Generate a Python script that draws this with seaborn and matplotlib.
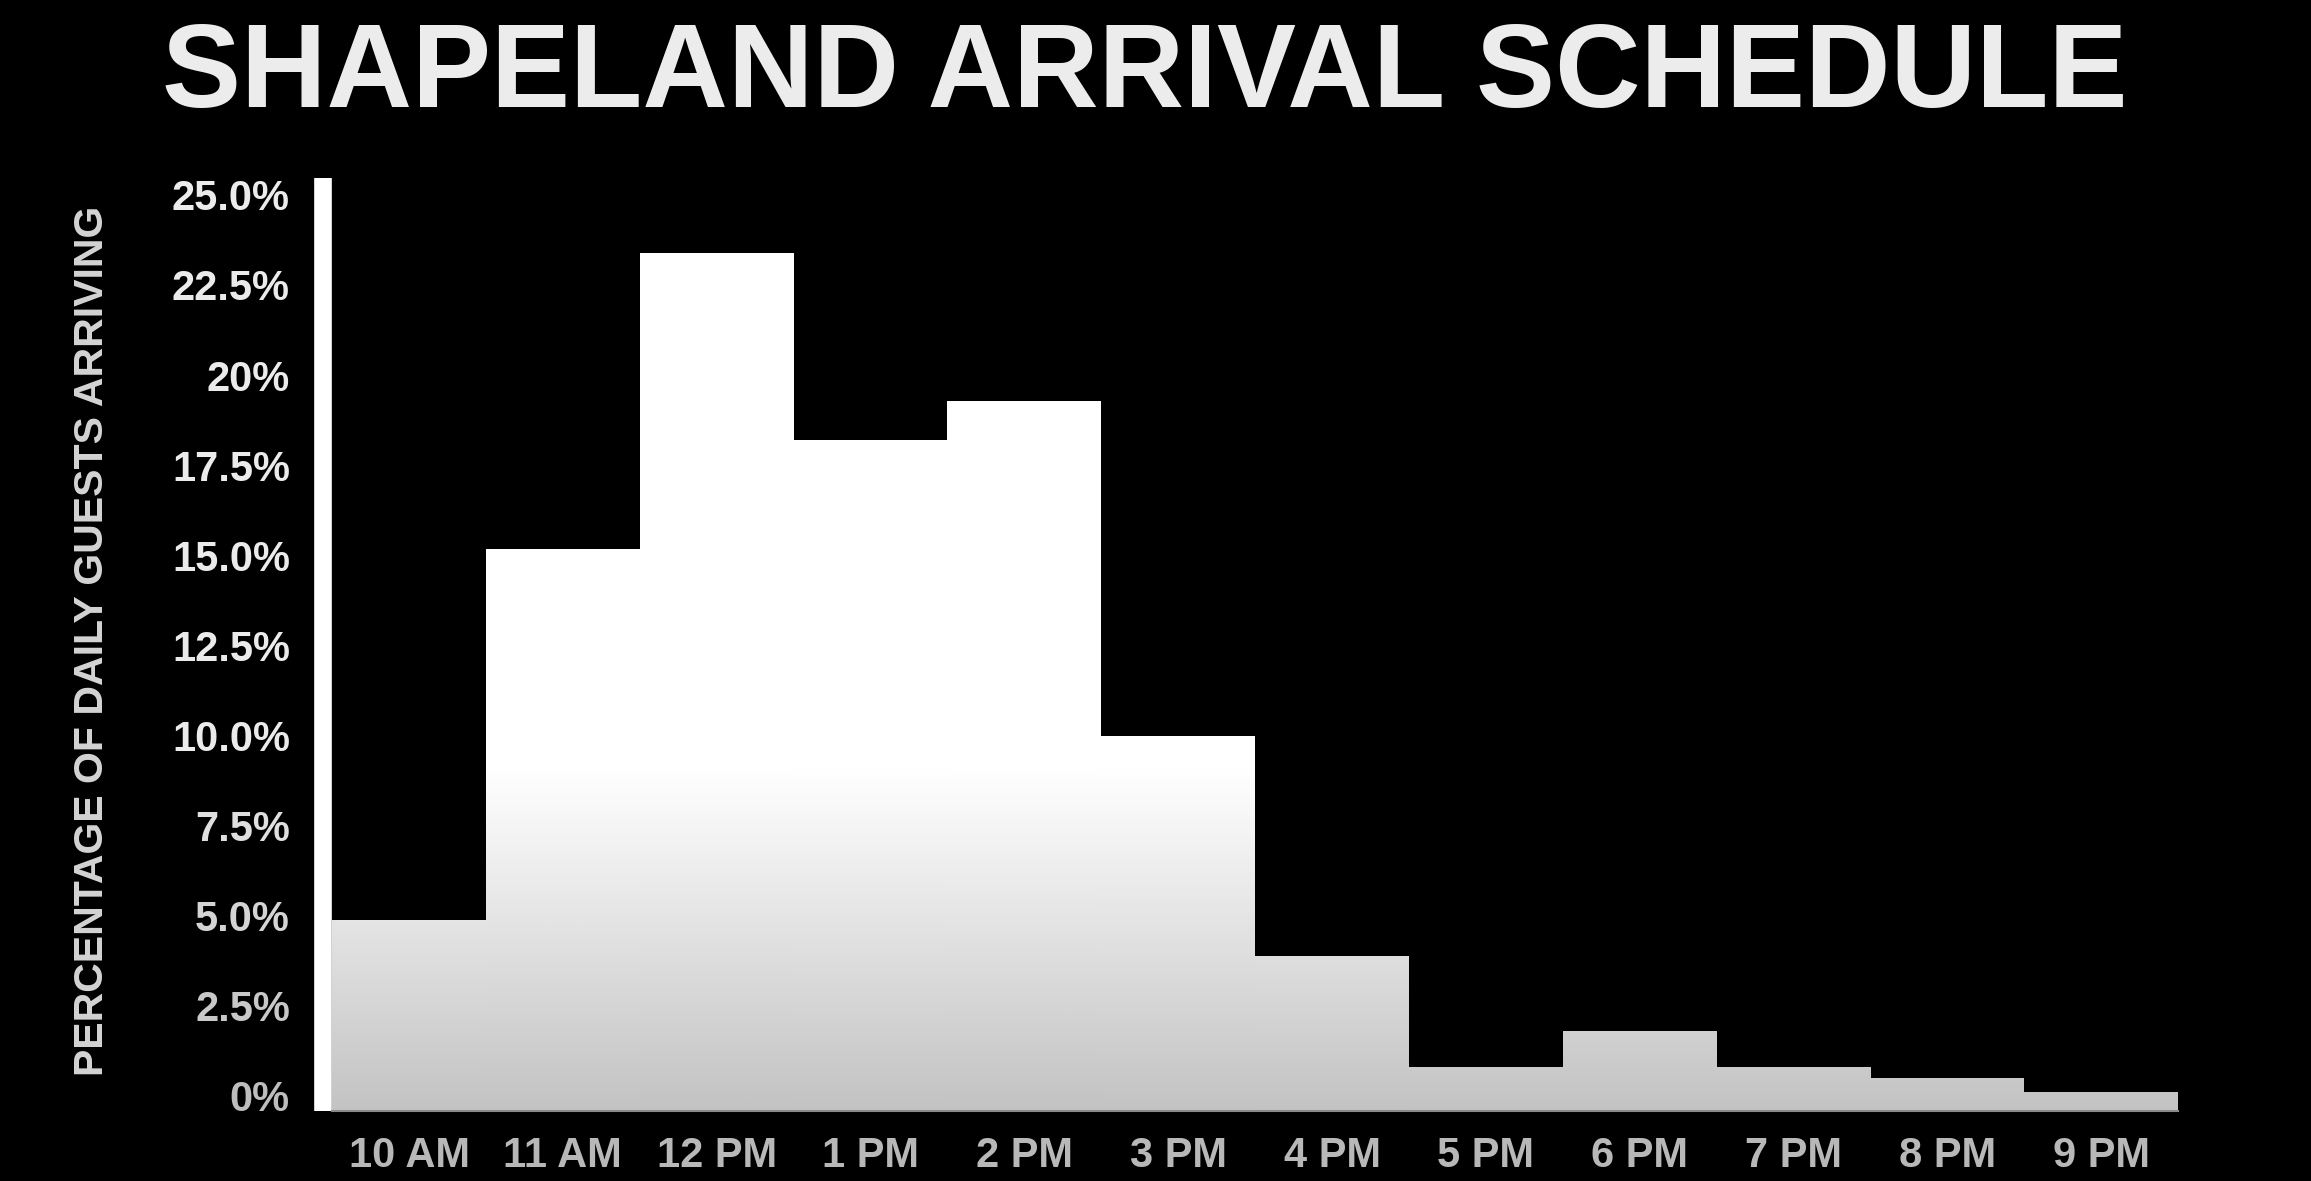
import numpy as np
import pandas as pd
import seaborn as sns
import matplotlib
matplotlib.use('Agg')
import matplotlib.pyplot as plt
from matplotlib.colors import LinearSegmentedColormap

# Share of daily guests arriving per hour (%)
hours = ['10 AM', '11 AM', '12 PM', '1 PM', '2 PM', '3 PM',
         '4 PM', '5 PM', '6 PM', '7 PM', '8 PM', '9 PM']
arrivals = [5.3, 15.6, 23.8, 18.6, 19.7, 10.4, 4.3, 1.2, 2.2, 1.2, 0.9, 0.5]

ytick_vals = [0, 2.5, 5, 7.5, 10, 12.5, 15, 17.5, 20, 22.5, 25]
ytick_labels = ['0%', '2.5%', '5.0%', '7.5%', '10.0%', '12.5%', '15.0%',
                '17.5%', '20%', '22.5%', '25.0%']

sns.set_theme(style='dark', rc={'axes.facecolor': 'black',
                                'figure.facecolor': 'black'})
plt.rcParams['font.family'] = ['Liberation Sans', 'DejaVu Sans']

fig = plt.figure(figsize=(23.11, 11.81), dpi=100, facecolor='black')
ax = fig.add_axes([0.1437, 0.0593, 0.7988, 0.79])

df = pd.DataFrame({'hour': hours, 'pct': arrivals})
sns.barplot(data=df, x='hour', y='pct', color='white', saturation=1,
            width=1.0, linewidth=0, errorbar=None, ax=ax)

# white-to-grey fade towards the baseline, painted inside each bar
fade = LinearSegmentedColormap.from_list('fade', ['#c3c3c3', '#ffffff'])
for patch in ax.patches:
    x0 = patch.get_x()
    w = patch.get_width()
    h = patch.get_height()
    grad = np.linspace(0, h, 300).reshape(-1, 1)
    ax.imshow(grad, extent=[x0, x0 + w, 0, h], origin='lower', aspect='auto',
              cmap=fade, vmin=0, vmax=9.5, interpolation='bilinear',
              zorder=patch.get_zorder() + 0.1)

ax.set_xlim(-0.5, 11.5)
ax.set_ylim(0, 25.9)
ax.grid(False)
ax.set_xlabel('')
ax.set_ylabel('')

for side in ['top', 'right']:
    ax.spines[side].set_visible(False)
ax.spines['left'].set_color('white')
ax.spines['left'].set_linewidth(12.7)
ax.spines['left'].set_capstyle('butt')
ax.spines['left'].set_position(('outward', 6.35))
ax.spines['bottom'].set_color('#8a8a8a')
ax.spines['bottom'].set_linewidth(1.5)

ax.set_yticks(ytick_vals, ytick_labels)
ax.tick_params(axis='y', length=0, pad=24, labelsize=30)
ax.tick_params(axis='x', length=0, pad=18, labelsize=30, labelcolor='#b8b8b8')
plt.setp(ax.get_xticklabels(), fontweight='bold')
for val, lab in zip(ytick_vals, ax.get_yticklabels()):
    g = int(0xbd + (0xeb - 0xbd) * min(val / 10, 1))
    lab.set_color('#%02x%02x%02x' % (g, g, g))
    lab.set_fontweight('bold')
    lab.set_verticalalignment('baseline')

fig.text(0.4954, 0.9095, 'SHAPELAND ARRIVAL SCHEDULE', ha='center',
         va='baseline', fontsize=85.3, fontweight='bold', color='#ececec')
fig.text(0.0396, 0.457, 'PERCENTAGE OF DAILY GUESTS ARRIVING', rotation=90,
         ha='center', va='center', fontsize=29.5, fontweight='bold',
         color='#d4d4d4')

fig.savefig('out.png', dpi=100, facecolor='black')
